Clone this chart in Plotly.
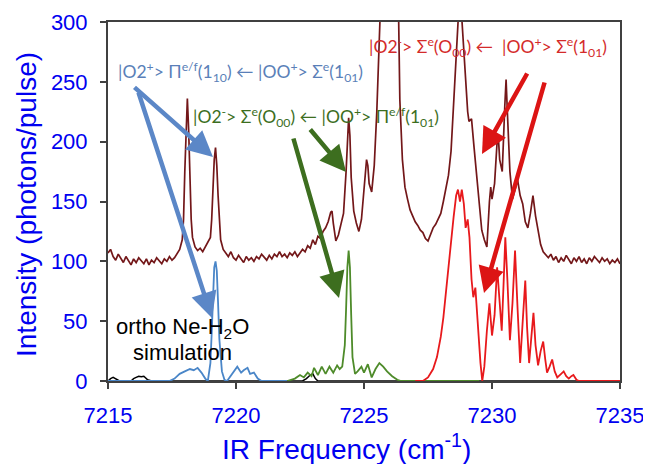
import plotly.graph_objects as go

# ---------------- data ----------------
exp_x = [7215.0, 7215.1, 7215.2, 7215.3, 7215.4, 7215.5, 7215.6, 7215.7, 7215.8, 7215.9,
         7216.0, 7216.1, 7216.2, 7216.3, 7216.4, 7216.5, 7216.6, 7216.7, 7216.8, 7216.9,
         7217.0, 7217.1, 7217.2, 7217.3, 7217.4, 7217.5, 7217.6, 7217.7, 7217.8, 7217.9,
         7217.95, 7218.0, 7218.05, 7218.1, 7218.15, 7218.2, 7218.25, 7218.3, 7218.4, 7218.5,
         7218.6, 7218.7, 7218.8, 7218.9, 7219.0, 7219.05, 7219.1, 7219.15, 7219.2, 7219.25,
         7219.3, 7219.35, 7219.4, 7219.5, 7219.6, 7219.7, 7219.8, 7219.9, 7220.0, 7220.1,
         7220.2, 7220.3, 7220.4, 7220.5, 7220.6, 7220.7, 7220.8, 7220.9, 7221.0, 7221.1,
         7221.2, 7221.3, 7221.4, 7221.5, 7221.6, 7221.7, 7221.8, 7221.9, 7222.0, 7222.1,
         7222.2, 7222.3, 7222.4, 7222.5, 7222.6, 7222.7, 7222.8, 7222.9, 7223.0, 7223.1,
         7223.2, 7223.3, 7223.4, 7223.5, 7223.6, 7223.7, 7223.75, 7223.8, 7223.9, 7224.0,
         7224.1, 7224.2, 7224.3, 7224.35, 7224.4, 7224.45, 7224.5, 7224.6, 7224.7, 7224.8,
         7224.9, 7225.0, 7225.1, 7225.15, 7225.2, 7225.3, 7225.4, 7225.5, 7225.6, 7225.7,
         7225.8, 7225.9, 7226.0, 7226.1, 7226.2, 7226.3, 7226.4, 7226.5, 7226.6, 7226.7,
         7226.8, 7226.9, 7227.0, 7227.1, 7227.2, 7227.3, 7227.4, 7227.5, 7227.6, 7227.7,
         7227.8, 7227.9, 7228.0, 7228.1, 7228.2, 7228.3, 7228.4, 7228.5, 7228.6, 7228.7,
         7228.75, 7228.8, 7228.9, 7229.0, 7229.05, 7229.1, 7229.2, 7229.3, 7229.4, 7229.5,
         7229.6, 7229.7, 7229.8, 7229.9, 7229.95, 7230.0, 7230.1, 7230.2, 7230.25, 7230.3,
         7230.4, 7230.5, 7230.55, 7230.6, 7230.7, 7230.8, 7230.9, 7231.0, 7231.1, 7231.2,
         7231.3, 7231.4, 7231.5, 7231.6, 7231.7, 7231.8, 7231.9, 7232.0, 7232.1, 7232.2,
         7232.3, 7232.4, 7232.5, 7232.6, 7232.7, 7232.8, 7232.9, 7233.0, 7233.1, 7233.2,
         7233.3, 7233.4, 7233.5, 7233.6, 7233.7, 7233.8, 7233.9, 7234.0, 7234.1, 7234.2,
         7234.3, 7234.4, 7234.5, 7234.6, 7234.7, 7234.8, 7234.9, 7235.0]
exp_y = [107, 110, 104, 101, 106, 103, 99, 104, 101, 97,
         102, 99, 103, 100, 98, 102, 97, 101, 99, 103,
         100, 98, 102, 100, 104, 101, 103, 106, 110, 118,
         135, 175, 215, 236, 210, 165, 135, 120, 112, 109,
         111, 108, 112, 115, 120, 135, 160, 185, 195, 180,
         155, 132, 118, 110, 107, 104, 108, 103, 101, 105,
         102, 99, 104, 101, 103, 100, 104, 102, 106, 103,
         101, 105, 102, 106, 104, 108, 104, 106, 103, 107,
         105, 108, 104, 107, 110, 108, 113, 111, 118, 114,
         121, 119, 125, 128, 133, 141, 142, 132, 117, 122,
         130, 140, 175, 205, 220, 205, 170, 142, 132, 125,
         135, 160, 185, 180, 165, 158, 180, 225, 290, 360,
         410, 370, 330, 350, 400, 380, 235, 185, 162, 152,
         143, 138, 133, 130, 126, 124, 119, 117, 123, 128,
         131, 136, 140, 150, 160, 172, 192, 235, 285, 320,
         330, 310, 272, 240, 225, 217, 219, 195, 170, 145,
         126, 118, 112, 150, 162, 152, 165, 200, 203, 185,
         175, 230, 252, 225, 175, 152, 160, 168, 155, 148,
         133, 128, 140, 155, 138, 125, 114, 108, 105, 103,
         106, 101, 104, 99, 103, 100, 105, 101, 98, 103,
         100, 104, 99, 102, 98, 103, 100, 104, 101, 99,
         103, 100, 102, 98, 101, 99, 102, 98]

blue_x = [7215.0, 7217.4, 7217.6, 7217.8, 7218.0, 7218.2, 7218.35, 7218.5, 7218.65, 7218.8,
          7218.9, 7219.0, 7219.05, 7219.1, 7219.15, 7219.2, 7219.25, 7219.3, 7219.35, 7219.45,
          7219.55, 7219.65, 7219.85, 7220.05, 7220.2, 7220.3, 7220.45, 7220.55, 7220.7, 7220.85,
          7221.0, 7222.0]
blue_y = [0, 0, 2, 6, 8, 10, 9, 11, 7, 2,
          0, 15, 40, 75, 95, 100, 92, 65, 35, 8,
          1, 0, 6, 12, 7, 9, 11, 6, 7, 2,
          0, 0]

black_x = [7215.0, 7215.1, 7215.2, 7215.3, 7215.45, 7215.9, 7216.0, 7216.1, 7216.2, 7216.3,
           7216.4, 7216.55, 7216.7, 7222.6, 7222.75, 7222.9, 7223.0, 7223.1, 7223.2, 7235.0]
black_y = [0, 2, 3, 2, 0, 0, 2, 3, 4, 3.5,
           4, 1, 0, 0, 2, 5, 6, 2, 0, 0]

green_x = [7222.0, 7222.3, 7222.5, 7222.65, 7222.8, 7222.95, 7223.05, 7223.2, 7223.35, 7223.5,
           7223.65, 7223.8, 7223.95, 7224.05, 7224.15, 7224.25, 7224.3, 7224.35, 7224.4, 7224.45,
           7224.5, 7224.55, 7224.65, 7224.75, 7224.9, 7225.0, 7225.15, 7225.3, 7225.45, 7225.6,
           7225.75, 7225.9, 7226.1, 7226.3, 7226.45, 7229.5]
green_y = [0, 2, 5, 3, 7, 4, 11, 5, 12, 6,
           12, 7, 13, 10, 12, 30, 60, 95, 109, 95,
           55, 20, 6, 8, 12, 7, 14, 3, 10, 15,
           12, 8, 4, 1, 0, 0]

red_x = [7227.0, 7227.3, 7227.5, 7227.7, 7227.85, 7228.0, 7228.1, 7228.2, 7228.3, 7228.4,
         7228.5, 7228.6, 7228.67, 7228.75, 7228.82, 7228.9, 7228.97, 7229.05, 7229.12, 7229.2,
         7229.27, 7229.35, 7229.45, 7229.55, 7229.62, 7229.7, 7229.8, 7229.9, 7230.0, 7230.1,
         7230.2, 7230.3, 7230.38, 7230.45, 7230.52, 7230.6, 7230.7, 7230.8, 7230.9, 7231.0,
         7231.1, 7231.2, 7231.3, 7231.37, 7231.45, 7231.53, 7231.62, 7231.7, 7231.8, 7231.9,
         7232.0, 7232.08, 7232.15, 7232.25, 7232.35, 7232.45, 7232.55, 7232.7, 7232.8, 7232.9,
         7233.0, 7233.1, 7233.18, 7233.3, 7233.4, 7235.0]
red_y = [0, 0, 3, 10, 20, 37, 53, 75, 95, 118,
         137, 155, 160, 150, 160, 148, 128, 135, 120, 85,
         70, 78, 45, 15, 0, 12, 42, 65, 38, 55,
         95, 60, 42, 80, 120, 85, 34, 65, 109, 60,
         15, 50, 84, 45, 15, 35, 57, 30, 13, 25,
         33, 18, 7, 12, 18, 8, 3, 6, 8, 4,
         2, 4, 5, 1, 0, 0]

x_ticks = [7215, 7220, 7225, 7230, 7235]
y_ticks = [0, 50, 100, 150, 200, 250, 300]

# ---------------- figure ----------------
fig = go.Figure()
fig.add_trace(go.Scatter(x=exp_x, y=exp_y, mode="lines",
                         line=dict(color="#731719", width=1.7)))
fig.add_trace(go.Scatter(x=black_x, y=black_y, mode="lines",
                         line=dict(color="#000000", width=1.5)))
fig.add_trace(go.Scatter(x=blue_x, y=blue_y, mode="lines",
                         line=dict(color="#4A86C8", width=1.8)))
fig.add_trace(go.Scatter(x=green_x, y=green_y, mode="lines",
                         line=dict(color="#4E8B2A", width=1.8)))
fig.add_trace(go.Scatter(x=red_x, y=red_y, mode="lines",
                         line=dict(color="#E8191C", width=1.8)))

# page has an 8px body margin; compensate so the plot lands at page px 108..620 x 22..381
OFF = 8
PL, PR, PT, PB = 108, 620, 22, 381   # plot area in page pixels
W, H = 651 - OFF, 464 - OFF
L, T = PL - OFF, PT - OFF
R, B = W - (PR - OFF), H - (PB - OFF)
PW, PH = PR - PL, PB - PT


def px(x):
    return (x - PL) / PW


def py(y):
    return (PB - y) / PH


ann = []
lab_font = "Lato, 'Open Sans', sans-serif"
ann.append(dict(x=px(116), y=py(72), xref="paper", yref="paper", xanchor="left", yanchor="middle",
                showarrow=False, font=dict(family=lab_font, size=17.5, color="#5A7FB8"),
                text="|O2<sup>+</sup>> \u03a0<sup>e/f</sup>(1<sub>10</sub>) \u2190 |OO<sup>+</sup>> \u03a3<sup>e</sup>(1<sub>01</sub>)"))
ann.append(dict(x=px(191), y=py(117), xref="paper", yref="paper", xanchor="left", yanchor="middle",
                showarrow=False, font=dict(family=lab_font, size=17.5, color="#3C6E1E"),
                text="|O2<sup>-</sup>> \u03a3<sup>e</sup>(O<sub>00</sub>) \u2190 |OO<sup>+</sup>> \u03a0<sup>e/f</sup>(1<sub>01</sub>)"))
ann.append(dict(x=px(367), y=py(47), xref="paper", yref="paper", xanchor="left", yanchor="middle",
                showarrow=False, font=dict(family=lab_font, size=17.5, color="#D42A2A"),
                text="|O2<sup>-</sup>> \u03a3<sup>e</sup>(O<sub>00</sub>) \u2190  |OO<sup>+</sup>> \u03a3<sup>e</sup>(1<sub>01</sub>)"))
ann.append(dict(x=px(182), y=py(328), xref="paper", yref="paper", xanchor="center", yanchor="middle",
                showarrow=False, font=dict(family="Liberation Sans, Arial", size=22, color="#000000"),
                text="ortho Ne-H<sub>2</sub>O"))
ann.append(dict(x=px(182), y=py(352), xref="paper", yref="paper", xanchor="center", yanchor="middle",
                showarrow=False, font=dict(family="Liberation Sans, Arial", size=22, color="#000000"),
                text="simulation"))

# arrows: (tail_x, tail_y, head_x, head_y, color) in page pixels
arrows = [
    (133, 86, 213, 157, "#5B87C7"),
    (138, 91, 212, 318, "#5B87C7"),
    (309, 128, 346, 172, "#3D6E1F"),
    (293, 137, 339, 298, "#3D6E1F"),
    (528, 72, 482, 154, "#DC1414"),
    (545, 81, 484, 293, "#DC1414"),
]
for tx, ty, hx, hy, c in arrows:
    ann.append(dict(x=px(hx), y=py(hy), xref="paper", yref="paper",
                    ax=tx - hx, ay=ty - hy, axref="pixel", ayref="pixel",
                    showarrow=True, arrowhead=2, arrowsize=1.15, arrowwidth=4.5,
                    arrowcolor=c, text="", standoff=0, startstandoff=0))

# axis titles
ann.append(dict(x=px(346), y=py(447), xref="paper", yref="paper", xanchor="center", yanchor="middle",
                showarrow=False, font=dict(family="Liberation Sans, Arial", size=28, color="#0000F0"),
                text="IR Frequency (cm<sup>-1</sup>)"))
ann.append(dict(x=px(26), y=py(205), xref="paper", yref="paper", xanchor="center", yanchor="middle",
                showarrow=False, textangle=-90,
                font=dict(family="Liberation Sans, Arial", size=28, color="#0000F0"),
                text="Intensity (photons/pulse)"))

fig.update_layout(
    width=W, height=H,
    margin=dict(l=L, r=R, t=T, b=B, autoexpand=False),
    paper_bgcolor="white", plot_bgcolor="white",
    showlegend=False,
    annotations=ann,
)
fig.update_xaxes(range=[7215, 7235], tickvals=x_ticks, ticktext=[str(v) for v in x_ticks],
                 showgrid=False, zeroline=False, showline=True, linecolor="#404040", linewidth=2,
                 mirror=True, ticks="outside", ticklen=6, tickcolor="#404040", tickwidth=1.5,
                 ticklabelstandoff=8,
                 tickfont=dict(family="Liberation Sans, Arial", size=22, color="#0000F0"))
fig.update_yaxes(range=[0, 300], tickvals=y_ticks, ticktext=[str(v) for v in y_ticks],
                 showgrid=False, zeroline=False, showline=True, linecolor="#404040", linewidth=2,
                 mirror=True, ticks="outside", ticklen=6, tickcolor="#404040", tickwidth=1.5,
                 ticklabelstandoff=8,
                 tickfont=dict(family="Liberation Sans, Arial", size=22, color="#0000F0"))

fig.write_html("out.html")
